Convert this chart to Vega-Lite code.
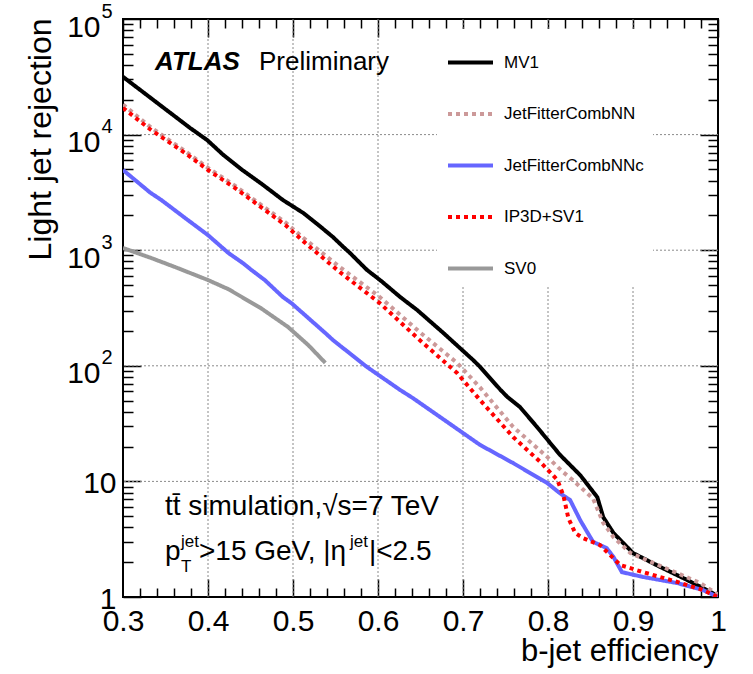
{
  "$schema": "https://vega.github.io/schema/vega-lite/v6.json",
  "width": 595,
  "height": 578,
  "autosize": "none",
  "padding": {"left": 123, "top": 19, "right": 35, "bottom": 77},
  "background": "white",
  "datasets": {
    "curves": [
      {"tagger": "MV1", "eff": 0.300, "rej": 31600},
      {"tagger": "MV1", "eff": 0.379, "rej": 11400},
      {"tagger": "MV1", "eff": 0.399, "rej": 8970},
      {"tagger": "MV1", "eff": 0.418, "rej": 6670},
      {"tagger": "MV1", "eff": 0.441, "rej": 4900},
      {"tagger": "MV1", "eff": 0.465, "rej": 3660},
      {"tagger": "MV1", "eff": 0.488, "rej": 2720},
      {"tagger": "MV1", "eff": 0.512, "rej": 2100},
      {"tagger": "MV1", "eff": 0.530, "rej": 1650},
      {"tagger": "MV1", "eff": 0.547, "rej": 1300},
      {"tagger": "MV1", "eff": 0.559, "rej": 1070},
      {"tagger": "MV1", "eff": 0.567, "rej": 946},
      {"tagger": "MV1", "eff": 0.587, "rej": 675},
      {"tagger": "MV1", "eff": 0.604, "rej": 540},
      {"tagger": "MV1", "eff": 0.626, "rej": 394},
      {"tagger": "MV1", "eff": 0.646, "rej": 304},
      {"tagger": "MV1", "eff": 0.677, "rej": 192},
      {"tagger": "MV1", "eff": 0.712, "rej": 112},
      {"tagger": "MV1", "eff": 0.720, "rej": 98},
      {"tagger": "MV1", "eff": 0.744, "rej": 62},
      {"tagger": "MV1", "eff": 0.752, "rej": 54},
      {"tagger": "MV1", "eff": 0.767, "rej": 44},
      {"tagger": "MV1", "eff": 0.787, "rej": 29.6},
      {"tagger": "MV1", "eff": 0.814, "rej": 17.0},
      {"tagger": "MV1", "eff": 0.838, "rej": 11.3},
      {"tagger": "MV1", "eff": 0.858, "rej": 7.3},
      {"tagger": "MV1", "eff": 0.865, "rej": 4.9},
      {"tagger": "MV1", "eff": 0.877, "rej": 3.58},
      {"tagger": "MV1", "eff": 0.900, "rej": 2.40},
      {"tagger": "MV1", "eff": 0.932, "rej": 1.82},
      {"tagger": "MV1", "eff": 0.964, "rej": 1.40},
      {"tagger": "MV1", "eff": 0.994, "rej": 1.08},
      {"tagger": "MV1", "eff": 1.000, "rej": 1.00},
      {"tagger": "JetFitterCombNN", "eff": 0.300, "rej": 18200},
      {"tagger": "JetFitterCombNN", "eff": 0.333, "rej": 11500},
      {"tagger": "JetFitterCombNN", "eff": 0.373, "rej": 7200},
      {"tagger": "JetFitterCombNN", "eff": 0.400, "rej": 5150},
      {"tagger": "JetFitterCombNN", "eff": 0.432, "rej": 3600},
      {"tagger": "JetFitterCombNN", "eff": 0.462, "rej": 2480},
      {"tagger": "JetFitterCombNN", "eff": 0.491, "rej": 1740},
      {"tagger": "JetFitterCombNN", "eff": 0.512, "rej": 1280},
      {"tagger": "JetFitterCombNN", "eff": 0.555, "rej": 716},
      {"tagger": "JetFitterCombNN", "eff": 0.602, "rej": 394},
      {"tagger": "JetFitterCombNN", "eff": 0.649, "rej": 196},
      {"tagger": "JetFitterCombNN", "eff": 0.693, "rej": 106},
      {"tagger": "JetFitterCombNN", "eff": 0.720, "rej": 65},
      {"tagger": "JetFitterCombNN", "eff": 0.759, "rej": 29.6},
      {"tagger": "JetFitterCombNN", "eff": 0.799, "rej": 16.3},
      {"tagger": "JetFitterCombNN", "eff": 0.818, "rej": 12.0},
      {"tagger": "JetFitterCombNN", "eff": 0.829, "rej": 10.3},
      {"tagger": "JetFitterCombNN", "eff": 0.838, "rej": 8.95},
      {"tagger": "JetFitterCombNN", "eff": 0.853, "rej": 7.1},
      {"tagger": "JetFitterCombNN", "eff": 0.865, "rej": 4.37},
      {"tagger": "JetFitterCombNN", "eff": 0.877, "rej": 3.30},
      {"tagger": "JetFitterCombNN", "eff": 0.897, "rej": 2.40},
      {"tagger": "JetFitterCombNN", "eff": 0.924, "rej": 1.97},
      {"tagger": "JetFitterCombNN", "eff": 0.952, "rej": 1.61},
      {"tagger": "JetFitterCombNN", "eff": 0.979, "rej": 1.32},
      {"tagger": "JetFitterCombNN", "eff": 1.000, "rej": 1.05},
      {"tagger": "JetFitterCombNNc", "eff": 0.300, "rej": 4940},
      {"tagger": "JetFitterCombNNc", "eff": 0.332, "rej": 3150},
      {"tagger": "JetFitterCombNNc", "eff": 0.345, "rej": 2720},
      {"tagger": "JetFitterCombNNc", "eff": 0.373, "rej": 1900},
      {"tagger": "JetFitterCombNNc", "eff": 0.400, "rej": 1350},
      {"tagger": "JetFitterCombNNc", "eff": 0.424, "rej": 946},
      {"tagger": "JetFitterCombNNc", "eff": 0.441, "rej": 774},
      {"tagger": "JetFitterCombNNc", "eff": 0.451, "rej": 675},
      {"tagger": "JetFitterCombNNc", "eff": 0.467, "rej": 550},
      {"tagger": "JetFitterCombNNc", "eff": 0.488, "rej": 394},
      {"tagger": "JetFitterCombNNc", "eff": 0.498, "rej": 349},
      {"tagger": "JetFitterCombNNc", "eff": 0.538, "rej": 192},
      {"tagger": "JetFitterCombNNc", "eff": 0.547, "rej": 167},
      {"tagger": "JetFitterCombNNc", "eff": 0.568, "rej": 126},
      {"tagger": "JetFitterCombNNc", "eff": 0.587, "rej": 97.7},
      {"tagger": "JetFitterCombNNc", "eff": 0.626, "rej": 61.8},
      {"tagger": "JetFitterCombNNc", "eff": 0.641, "rej": 52.6},
      {"tagger": "JetFitterCombNNc", "eff": 0.720, "rej": 20.7},
      {"tagger": "JetFitterCombNNc", "eff": 0.759, "rej": 14.4},
      {"tagger": "JetFitterCombNNc", "eff": 0.799, "rej": 9.7},
      {"tagger": "JetFitterCombNNc", "eff": 0.814, "rej": 7.9},
      {"tagger": "JetFitterCombNNc", "eff": 0.826, "rej": 6.9},
      {"tagger": "JetFitterCombNNc", "eff": 0.838, "rej": 4.6},
      {"tagger": "JetFitterCombNNc", "eff": 0.853, "rej": 3.0},
      {"tagger": "JetFitterCombNNc", "eff": 0.869, "rej": 2.65},
      {"tagger": "JetFitterCombNNc", "eff": 0.877, "rej": 2.22},
      {"tagger": "JetFitterCombNNc", "eff": 0.887, "rej": 1.64},
      {"tagger": "JetFitterCombNNc", "eff": 0.912, "rej": 1.49},
      {"tagger": "JetFitterCombNNc", "eff": 0.952, "rej": 1.32},
      {"tagger": "JetFitterCombNNc", "eff": 0.982, "rej": 1.15},
      {"tagger": "JetFitterCombNNc", "eff": 1.000, "rej": 1.00},
      {"tagger": "IP3D+SV1", "eff": 0.300, "rej": 17000},
      {"tagger": "IP3D+SV1", "eff": 0.333, "rej": 10960},
      {"tagger": "IP3D+SV1", "eff": 0.373, "rej": 6930},
      {"tagger": "IP3D+SV1", "eff": 0.400, "rej": 4940},
      {"tagger": "IP3D+SV1", "eff": 0.432, "rej": 3450},
      {"tagger": "IP3D+SV1", "eff": 0.462, "rej": 2370},
      {"tagger": "IP3D+SV1", "eff": 0.491, "rej": 1650},
      {"tagger": "IP3D+SV1", "eff": 0.513, "rej": 1180},
      {"tagger": "IP3D+SV1", "eff": 0.527, "rej": 964},
      {"tagger": "IP3D+SV1", "eff": 0.555, "rej": 647},
      {"tagger": "IP3D+SV1", "eff": 0.602, "rej": 349},
      {"tagger": "IP3D+SV1", "eff": 0.649, "rej": 167},
      {"tagger": "IP3D+SV1", "eff": 0.693, "rej": 86.7},
      {"tagger": "IP3D+SV1", "eff": 0.720, "rej": 50.6},
      {"tagger": "IP3D+SV1", "eff": 0.759, "rej": 24.2},
      {"tagger": "IP3D+SV1", "eff": 0.791, "rej": 14.7},
      {"tagger": "IP3D+SV1", "eff": 0.811, "rej": 10.3},
      {"tagger": "IP3D+SV1", "eff": 0.818, "rej": 7.6},
      {"tagger": "IP3D+SV1", "eff": 0.824, "rej": 4.8},
      {"tagger": "IP3D+SV1", "eff": 0.832, "rej": 3.58},
      {"tagger": "IP3D+SV1", "eff": 0.841, "rej": 3.24},
      {"tagger": "IP3D+SV1", "eff": 0.861, "rej": 2.82},
      {"tagger": "IP3D+SV1", "eff": 0.873, "rej": 2.31},
      {"tagger": "IP3D+SV1", "eff": 0.885, "rej": 1.89},
      {"tagger": "IP3D+SV1", "eff": 0.912, "rej": 1.64},
      {"tagger": "IP3D+SV1", "eff": 0.952, "rej": 1.35},
      {"tagger": "IP3D+SV1", "eff": 0.982, "rej": 1.15},
      {"tagger": "IP3D+SV1", "eff": 1.000, "rej": 1.00},
      {"tagger": "SV0", "eff": 0.300, "rej": 1045},
      {"tagger": "SV0", "eff": 0.333, "rej": 857},
      {"tagger": "SV0", "eff": 0.361, "rej": 716},
      {"tagger": "SV0", "eff": 0.400, "rej": 552},
      {"tagger": "SV0", "eff": 0.424, "rej": 460},
      {"tagger": "SV0", "eff": 0.462, "rej": 316},
      {"tagger": "SV0", "eff": 0.494, "rej": 217},
      {"tagger": "SV0", "eff": 0.518, "rej": 151},
      {"tagger": "SV0", "eff": 0.538, "rej": 106}
    ],
    "gridx": [{"v": 0.4}, {"v": 0.5}, {"v": 0.6}, {"v": 0.7}, {"v": 0.8}, {"v": 0.9}],
    "gridy": [{"v": 10}, {"v": 100}, {"v": 1000}, {"v": 10000}],
    "atlas": [{"t": "ATLAS", "x": 0.3377, "y": 36200}],
    "prelim": [{"t": "Preliminary", "x": 0.46, "y": 36200}],
    "mainText": [
      {"t": "tt̄ simulation,√s=7 TeV", "x": 0.3494, "y": 5.12},
      {"t": "p", "x": 0.3494, "y": 2.09},
      {"t": ">15 GeV, |η", "x": 0.3894, "y": 2.09},
      {"t": "|<2.5", "x": 0.5894, "y": 2.09}
    ],
    "supText": [
      {"t": "jet", "x": 0.3682, "y": 2.707},
      {"t": "jet", "x": 0.5671, "y": 2.707}
    ],
    "subText": [
      {"t": "T", "x": 0.3682, "y": 1.645}
    ]
  },
  "data": {"name": "curves"},
  "layer": [
    {
      "data": {"name": "gridx"},
      "mark": {"type": "rule", "color": "#8a8a8a", "strokeWidth": 1, "strokeDash": [2, 2]},
      "encoding": {
        "x": {"field": "v", "type": "quantitative", "scale": {"domain": [0.3, 1], "nice": false, "zero": false}, "axis": null}
      }
    },
    {
      "data": {"name": "gridy"},
      "mark": {"type": "rule", "color": "#8a8a8a", "strokeWidth": 1, "strokeDash": [2, 2]},
      "encoding": {
        "y": {"field": "v", "type": "quantitative", "scale": {"type": "log", "domain": [1, 100000], "nice": false}, "axis": null}
      }
    },
    {
      "mark": {"type": "line", "strokeWidth": 4, "clip": true, "strokeCap": "butt"},
      "encoding": {
        "x": {"field": "eff", "type": "quantitative",
          "scale": {"domain": [0.3, 1], "nice": false, "zero": false},
          "axis": {"orient": "bottom", "values": [0.3, 0.4, 0.5, 0.6, 0.7, 0.8, 0.9, 1],
            "labelExpr": "datum.value > 0.99 ? '1' : format(datum.value, '.1f')",
            "ticks": false, "labelPadding": 33, "labelBaseline": "alphabetic", "labelFontSize": 30,
            "labelFlush": false, "labelOverlap": false, "grid": false,
            "title": "b-jet efficiency", "titleFontSize": 31, "titleAlign": "right", "titleAnchor": "end",
            "titleX": 595, "titleY": 63, "titleBaseline": "alphabetic"}},
        "y": {"field": "rej", "type": "quantitative",
          "scale": {"type": "log", "domain": [1, 100000], "nice": false},
          "axis": {"orient": "left", "values": [1, 10],
            "labelExpr": "datum.value < 5 ? '1' : '10'",
            "ticks": false, "labelPadding": 7, "labelFontSize": 30, "labelBaseline": "alphabetic",
            "labelOffset": 11, "labelOverlap": false, "labelFlush": false, "grid": false,
            "title": "Light jet rejection", "titleFontSize": 32, "titleAngle": 270, "titleAlign": "right",
            "titleBaseline": "alphabetic", "titleX": -73, "titleY": -1}},
        "color": {"field": "tagger", "type": "nominal",
          "scale": {"domain": ["MV1", "JetFitterCombNN", "JetFitterCombNNc", "IP3D+SV1", "SV0"],
            "range": ["#000000", "#cc9999", "#6666ff", "#ff0000", "#999999"]},
          "legend": {"title": null, "orient": "none", "legendX": 314, "legendY": 10, "fillColor": "white", "zindex": 1,
            "padding": 9, "symbolType": "stroke", "symbolSize": 2025, "symbolStrokeWidth": 4,
            "labelFontSize": 17, "labelOffset": 9, "rowPadding": 18.5, "labelColor": "black", "labelLimit": 300}},
        "strokeDash": {"field": "tagger", "type": "nominal",
          "scale": {"domain": ["MV1", "JetFitterCombNN", "JetFitterCombNNc", "IP3D+SV1", "SV0"],
            "range": [[1, 0], [4, 4], [1, 0], [4, 4], [1, 0]]},
          "legend": {"title": null, "orient": "none", "legendX": 314, "legendY": 10, "fillColor": "white", "zindex": 1,
            "padding": 9, "symbolType": "stroke", "symbolSize": 2025, "symbolStrokeWidth": 4,
            "labelFontSize": 17, "labelOffset": 9, "rowPadding": 18.5, "labelColor": "black", "labelLimit": 300}}
      }
    },
    {
      "mark": {"type": "point", "opacity": 0},
      "encoding": {
        "x": {"field": "eff", "type": "quantitative", "scale": {"domain": [0.3, 1], "nice": false, "zero": false},
          "axis": {"orient": "bottom", "values": [0.4, 0.5, 0.6, 0.7, 0.8, 0.9], "labels": false, "ticks": true, "tickSize": -18, "grid": false, "title": null}},
        "y": {"field": "rej", "type": "quantitative", "scale": {"type": "log", "domain": [1, 100000], "nice": false},
          "axis": {"orient": "left", "values": [100, 1000, 10000, 100000], "labelExpr": "'10'", "ticks": false,
            "labelPadding": 23, "labelFontSize": 30, "labelBaseline": "alphabetic", "labelOffset": 17,
            "labelOverlap": false, "labelFlush": false, "grid": false, "title": null}}
      }
    },
    {
      "mark": {"type": "point", "opacity": 0},
      "encoding": {
        "x": {"field": "eff", "type": "quantitative", "scale": {"domain": [0.3, 1], "nice": false, "zero": false},
          "axis": {"orient": "bottom", "values": [0.32,0.34,0.36,0.38,0.42,0.44,0.46,0.48,0.52,0.54,0.56,0.58,0.62,0.64,0.66,0.68,0.72,0.74,0.76,0.78,0.82,0.84,0.86,0.88,0.92,0.94,0.96,0.98],
            "labels": false, "ticks": true, "tickSize": -9, "grid": false, "title": null}},
        "y": {"field": "rej", "type": "quantitative", "scale": {"type": "log", "domain": [1, 100000], "nice": false},
          "axis": {"orient": "left", "values": [100, 1000, 10000, 100000],
            "labelExpr": "format(log(datum.value)/LN10, '.0f')", "ticks": false,
            "labelPadding": 22, "labelAlign": "left", "labelFontSize": 20, "labelBaseline": "alphabetic",
            "labelOffset": -2, "labelOverlap": false, "labelFlush": false, "grid": false, "title": null}}
      }
    },
    {
      "mark": {"type": "point", "opacity": 0},
      "encoding": {
        "x": {"field": "eff", "type": "quantitative", "scale": {"domain": [0.3, 1], "nice": false, "zero": false},
          "axis": {"orient": "top", "values": [0.3, 0.4, 0.5, 0.6, 0.7, 0.8, 0.9, 1], "labels": false, "ticks": true, "tickSize": -18, "grid": false, "title": null}},
        "y": {"field": "rej", "type": "quantitative", "scale": {"type": "log", "domain": [1, 100000], "nice": false},
          "axis": {"orient": "left", "values": [1, 10, 100, 1000, 10000, 100000], "labels": false, "ticks": true, "tickSize": -18, "grid": false, "title": null}}
      }
    },
    {
      "mark": {"type": "point", "opacity": 0},
      "encoding": {
        "x": {"field": "eff", "type": "quantitative", "scale": {"domain": [0.3, 1], "nice": false, "zero": false},
          "axis": {"orient": "top", "values": [0.32,0.34,0.36,0.38,0.42,0.44,0.46,0.48,0.52,0.54,0.56,0.58,0.62,0.64,0.66,0.68,0.72,0.74,0.76,0.78,0.82,0.84,0.86,0.88,0.92,0.94,0.96,0.98],
            "labels": false, "ticks": true, "tickSize": -9, "grid": false, "title": null}},
        "y": {"field": "rej", "type": "quantitative", "scale": {"type": "log", "domain": [1, 100000], "nice": false},
          "axis": {"orient": "left", "values": [2,3,4,5,6,7,8,9,20,30,40,50,60,70,80,90,200,300,400,500,600,700,800,900,2000,3000,4000,5000,6000,7000,8000,9000,20000,30000,40000,50000,60000,70000,80000,90000],
            "labels": false, "ticks": true, "tickSize": -10, "grid": false, "title": null}}
      }
    },
    {
      "mark": {"type": "point", "opacity": 0},
      "encoding": {
        "x": {"field": "eff", "type": "quantitative", "scale": {"domain": [0.3, 1], "nice": false, "zero": false}, "axis": null},
        "y": {"field": "rej", "type": "quantitative", "scale": {"type": "log", "domain": [1, 100000], "nice": false},
          "axis": {"orient": "right", "values": [1, 10, 100, 1000, 10000, 100000], "labels": false, "ticks": true, "tickSize": -18, "grid": false, "title": null}}
      }
    },
    {
      "mark": {"type": "point", "opacity": 0},
      "encoding": {
        "x": {"field": "eff", "type": "quantitative", "scale": {"domain": [0.3, 1], "nice": false, "zero": false}, "axis": null},
        "y": {"field": "rej", "type": "quantitative", "scale": {"type": "log", "domain": [1, 100000], "nice": false},
          "axis": {"orient": "right", "values": [2,3,4,5,6,7,8,9,20,30,40,50,60,70,80,90,200,300,400,500,600,700,800,900,2000,3000,4000,5000,6000,7000,8000,9000,20000,30000,40000,50000,60000,70000,80000,90000],
            "labels": false, "ticks": true, "tickSize": -10, "grid": false, "title": null}}
      }
    },
    {
      "data": {"name": "atlas"},
      "mark": {"type": "text", "align": "left", "baseline": "alphabetic", "fontSize": 26, "fontWeight": "bold", "fontStyle": "italic", "color": "black"},
      "encoding": {
        "x": {"field": "x", "type": "quantitative", "scale": {"domain": [0.3, 1], "nice": false, "zero": false}, "axis": null},
        "y": {"field": "y", "type": "quantitative", "scale": {"type": "log", "domain": [1, 100000], "nice": false}, "axis": null},
        "text": {"field": "t"}
      }
    },
    {
      "data": {"name": "prelim"},
      "mark": {"type": "text", "align": "left", "baseline": "alphabetic", "fontSize": 26, "color": "black"},
      "encoding": {
        "x": {"field": "x", "type": "quantitative", "scale": {"domain": [0.3, 1], "nice": false, "zero": false}, "axis": null},
        "y": {"field": "y", "type": "quantitative", "scale": {"type": "log", "domain": [1, 100000], "nice": false}, "axis": null},
        "text": {"field": "t"}
      }
    },
    {
      "data": {"name": "mainText"},
      "mark": {"type": "text", "align": "left", "baseline": "alphabetic", "fontSize": 28, "color": "black"},
      "encoding": {
        "x": {"field": "x", "type": "quantitative", "scale": {"domain": [0.3, 1], "nice": false, "zero": false}, "axis": null},
        "y": {"field": "y", "type": "quantitative", "scale": {"type": "log", "domain": [1, 100000], "nice": false}, "axis": null},
        "text": {"field": "t"}
      }
    },
    {
      "data": {"name": "supText"},
      "mark": {"type": "text", "align": "left", "baseline": "alphabetic", "fontSize": 17, "color": "black"},
      "encoding": {
        "x": {"field": "x", "type": "quantitative", "scale": {"domain": [0.3, 1], "nice": false, "zero": false}, "axis": null},
        "y": {"field": "y", "type": "quantitative", "scale": {"type": "log", "domain": [1, 100000], "nice": false}, "axis": null},
        "text": {"field": "t"}
      }
    },
    {
      "data": {"name": "subText"},
      "mark": {"type": "text", "align": "left", "baseline": "alphabetic", "fontSize": 17, "color": "black"},
      "encoding": {
        "x": {"field": "x", "type": "quantitative", "scale": {"domain": [0.3, 1], "nice": false, "zero": false}, "axis": null},
        "y": {"field": "y", "type": "quantitative", "scale": {"type": "log", "domain": [1, 100000], "nice": false}, "axis": null},
        "text": {"field": "t"}
      }
    }
  ],
  "resolve": {"axis": {"x": "independent", "y": "independent"}},
  "config": {
    "font": "Liberation Sans",
    "view": {"stroke": "black", "strokeWidth": 2},
    "axis": {
      "domain": false,
      "tickColor": "black",
      "tickWidth": 1.5,
      "labelColor": "black",
      "titleColor": "black",
      "titleFontWeight": "normal",
      "labelFont": "Liberation Sans",
      "titleFont": "Liberation Sans"
    },
    "legend": {"labelFont": "Liberation Sans"}
  }
}
